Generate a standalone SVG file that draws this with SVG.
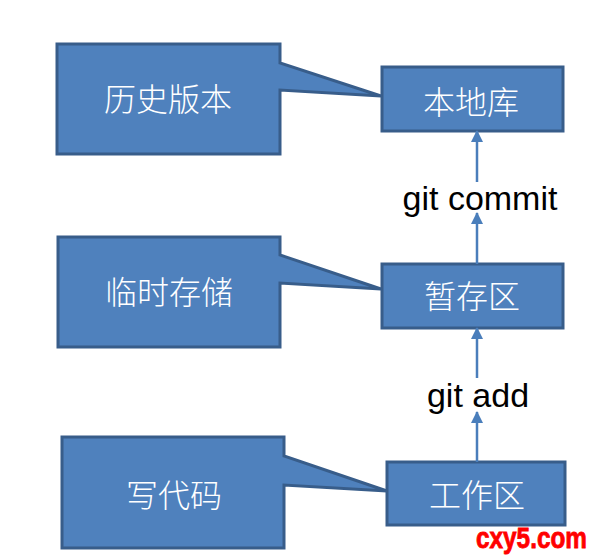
<svg xmlns="http://www.w3.org/2000/svg" width="593" height="558" viewBox="0 0 593 558">
<style>
.shape{fill:#4F81BD;stroke:#385D8A;stroke-width:3;stroke-linejoin:miter}
.cjk{font-family:"Noto Sans CJK SC","Noto Sans CJK JP",sans-serif;font-weight:300;font-size:32px;fill:#FFFFFF;text-anchor:middle}
.lbl{font-family:"Liberation Sans",Arial,sans-serif;font-size:34px;fill:#000000;text-anchor:middle}
.conn{stroke:#4A7EBB;stroke-width:2.5;fill:none}
.wm{font-family:"Liberation Sans",Arial,sans-serif;font-weight:bold;font-size:30px;fill:#FF0000;stroke:#FF0000;stroke-width:0.8}
</style>
<defs>
<marker id="arrow" markerUnits="userSpaceOnUse" markerWidth="12" markerHeight="12" viewBox="0 0 12 12" refX="11" refY="6" orient="auto">
<path d="M0,0 L12,6 L0,12 Z" fill="#4A7EBB"/>
</marker>
</defs>
<g id="callout-history">
<path class="shape" d="M57,44 H280 V63 L381,96 L280,90 V154 H57 Z"/>
<text class="cjk" x="168" y="111">历史版本</text>
</g>
<g id="callout-temp">
<path class="shape" d="M58,237 H280 V255 L381,289 L280,283 V347 H58 Z"/>
<text class="cjk" x="169" y="304">临时存储</text>
</g>
<g id="callout-code">
<path class="shape" d="M62,437 H284 V456 L387,491 L284,485 V548 H62 Z"/>
<text class="cjk" x="174" y="507">写代码</text>
</g>
<g id="node-repo">
<rect class="shape" x="382" y="67" width="181" height="64"/>
<text class="cjk" x="471" y="114">本地库</text>
</g>
<g id="node-stage">
<rect class="shape" x="382" y="264" width="181" height="64"/>
<text class="cjk" x="472" y="308">暂存区</text>
</g>
<g id="node-work">
<rect class="shape" x="387" y="462" width="178" height="63"/>
<text class="cjk" x="477" y="507">工作区</text>
</g>
<g id="connectors">
<line class="conn" x1="477" y1="264" x2="477" y2="213" marker-end="url(#arrow)"/>
<line class="conn" x1="477" y1="182" x2="477" y2="131" marker-end="url(#arrow)"/>
<line class="conn" x1="477" y1="462" x2="477" y2="412" marker-end="url(#arrow)"/>
<line class="conn" x1="477" y1="378" x2="477" y2="328" marker-end="url(#arrow)"/>
<text class="lbl" x="480" y="210">git commit</text>
<text class="lbl" x="478" y="407">git add</text>
</g>
<text class="wm" x="476" y="548" textLength="111" lengthAdjust="spacingAndGlyphs">cxy5.com</text>
</svg>
